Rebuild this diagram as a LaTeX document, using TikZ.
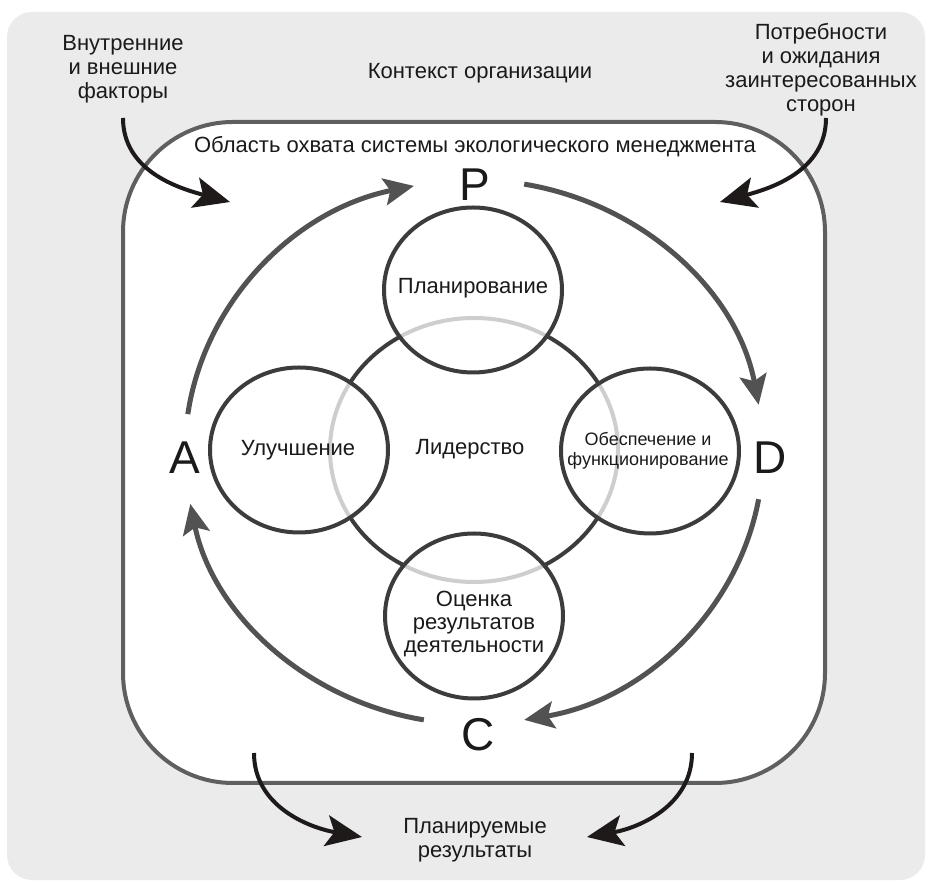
\documentclass[tikz,border=0pt]{standalone}
\usepackage{fontspec}
\setmainfont{Liberation Sans}
\usepackage{tikz}
\usetikzlibrary{shapes.geometric,arrows.meta}

\definecolor{bggray}{HTML}{EBEBEB}
\definecolor{framegray}{HTML}{5F5F5F}
\definecolor{ringgray}{HTML}{3C3C3C}
\definecolor{cyclegray}{HTML}{525252}
\definecolor{arrowblack}{HTML}{1E1A1A}
\definecolor{textgray}{HTML}{1A1A1A}

\begin{document}
\begin{tikzpicture}[x=1pt,y=1pt,
  every node/.style={font=\fontsize{22}{24}\selectfont, align=center, text=textgray},
  phase/.style={ellipse, draw=ringgray, line width=4pt, fill=white, fill opacity=0.75,
    minimum width=178pt, minimum height=165pt, inner sep=0pt},
  pdca/.style={draw=cyclegray, line width=5pt, -{Stealth[length=30pt,width=27pt,inset=6pt]}},
  feed/.style={draw=arrowblack, line width=4pt, -{Stealth[length=36pt,width=31pt,inset=8pt]}},
  letter/.style={font=\fontsize{46}{46}\selectfont}]
\useasboundingbox (0,0) rectangle (928,888);
\fill[bggray, rounded corners=25pt] (7,8) rectangle (925,876);
\draw[framegray, fill=white, line width=4pt, rounded corners=110pt] (123,105) rectangle (825,766);

% texts round the scope
\node (ctx) at (480,815) {Контекст организации};
\node (scope) at (475,741) {Область охвата системы экологического менеджмента};
\node (ext) at (123,819) {Внутренние\\и внешние\\факторы};
\node (stake) at (821,818) {Потребности\\и ожидания\\заинтересованных\\сторон};
\node (res) at (475,48) {Планируемые\\результаты};

% leadership and the four phases
\node[ellipse, draw=ringgray, line width=4pt, minimum width=288pt, minimum height=264pt] (lead) at (474,438) {};
\node[phase] (plan) at (473,598) {};
\node[phase] (impr) at (299,438) {};
\node[phase] (oper) at (650,437) {};
\node[phase] (eval) at (474,272) {};
\node (leadtxt) at (470,439) {Лидерство};
\node (plantxt) at (473,600) {Планирование};
\node (imprtxt) at (298,438) {Улучшение};
\node[font=\fontsize{18}{20}\selectfont] (opertxt) at (648,437) {Обеспечение и\\функционирование};
\node[font=\fontsize{22}{23}\selectfont] (evaltxt) at (474,264) {Оценка\\результатов\\деятельности};

% PDCA cycle
\coordinate (ctr) at (474,436);
\node[letter] (P) at (475,703) {P};
\node[letter] (D) at (770,430) {D};
\node[letter] (C) at (478,153) {C};
\node[letter] (A) at (185,430) {A};
\foreach \s/\e in {172/102, 80/10, -10/-80, 260/191}
  {
    \draw[pdca] ([shift={(\s:289 and 272)}]ctr) arc[start angle=\s, end angle=\e, x radius=289, y radius=272];
  }

% inputs and outputs
\coordinate (extfrom) at (123,770);
\coordinate (extto) at (230,686);
\coordinate (stakefrom) at (826,770);
\coordinate (staketo) at (720,686);
\coordinate (resfroml) at (254,135);
\coordinate (restol) at (362,51);
\coordinate (resfromr) at (692,135);
\coordinate (restor) at (587,51);
\draw[feed] (extfrom) to[out=-90, in=165] (extto);
\draw[feed] (stakefrom) to[out=-90, in=15] (staketo);
\draw[feed] (resfroml) to[out=-90, in=170] (restol);
\draw[feed] (resfromr) to[out=-90, in=10] (restor);
\end{tikzpicture}
\end{document}
